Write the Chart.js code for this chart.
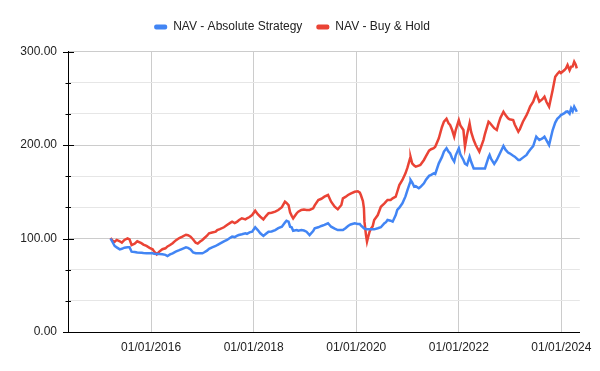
<!DOCTYPE html>
<html>
<head>
<meta charset="utf-8">
<script src="https://cdn.jsdelivr.net/npm/chart.js@4.4.1/dist/chart.umd.min.js"></script>
<style>
  html, body { margin: 0; padding: 0; background: #ffffff; }
  #wrap { width: 600px; height: 371px; }
</style>
</head>
<body>
<div id="wrap"><canvas id="c" width="600" height="371"></canvas></div>
<script>
// Dates as decimal years
const dates = [
  2015.21, 2015.25, 2015.29, 2015.33, 2015.39, 2015.43, 2015.48, 2015.54, 2015.58, 2015.62,
  2015.68, 2015.73, 2015.81, 2015.85, 2015.91, 2015.97, 2016.03, 2016.06, 2016.11, 2016.16,
  2016.22, 2016.28, 2016.32, 2016.37, 2016.42, 2016.48, 2016.55, 2016.61, 2016.68, 2016.72,
  2016.77, 2016.82, 2016.87, 2016.91, 2016.95, 2017.00, 2017.03, 2017.09, 2017.13, 2017.19,
  2017.26, 2017.29, 2017.34, 2017.42, 2017.48, 2017.55, 2017.58, 2017.63, 2017.68, 2017.71,
  2017.77, 2017.84, 2017.87, 2017.92, 2017.97, 2018.03, 2018.08, 2018.13, 2018.19, 2018.24,
  2018.29, 2018.35, 2018.42, 2018.48, 2018.55, 2018.61, 2018.64, 2018.68, 2018.71, 2018.74,
  2018.77, 2018.84, 2018.87, 2018.93, 2018.98, 2019.03, 2019.09, 2019.16, 2019.19, 2019.26,
  2019.32, 2019.38, 2019.45, 2019.51, 2019.58, 2019.64, 2019.71, 2019.74, 2019.79, 2019.84,
  2019.89, 2019.97, 2020.03, 2020.07, 2020.09, 2020.13, 2020.15, 2020.16, 2020.19, 2020.21,
  2020.23, 2020.26, 2020.29, 2020.32, 2020.35, 2020.42, 2020.48, 2020.55, 2020.58, 2020.61,
  2020.67, 2020.71, 2020.77, 2020.80, 2020.84, 2020.90, 2020.96, 2021.00, 2021.05, 2021.06,
  2021.09, 2021.13, 2021.16, 2021.22, 2021.25, 2021.32, 2021.36, 2021.42, 2021.46, 2021.51,
  2021.54, 2021.61, 2021.67, 2021.71, 2021.76, 2021.80, 2021.83, 2021.87, 2021.91, 2021.94,
  2022.00, 2022.03, 2022.09, 2022.12, 2022.16, 2022.21, 2022.24, 2022.29, 2022.33, 2022.40,
  2022.48, 2022.51, 2022.58, 2022.60, 2022.63, 2022.69, 2022.74, 2022.77, 2022.81, 2022.87,
  2022.91, 2022.96, 2022.99, 2023.06, 2023.09, 2023.16, 2023.19, 2023.25, 2023.32, 2023.35,
  2023.39, 2023.45, 2023.51, 2023.57, 2023.63, 2023.67, 2023.71, 2023.76, 2023.83, 2023.88,
  2023.92, 2023.96, 2023.99, 2024.06, 2024.09, 2024.12, 2024.16, 2024.19, 2024.22, 2024.25,
  2024.28, 2024.30
];

const absoluteStrategy = [
  100, 96, 92, 90.5, 88.4, 89, 90.2, 90.6, 90.6, 85.9,
  85.5, 85, 84.8, 84.5, 84.2, 84.2, 84.2, 83.8, 83.4, 83.3,
  83.1, 82.5, 81.3, 83, 84.2, 86, 87.5, 89, 90.5, 90,
  88.4, 85, 84.2, 84.2, 84.2, 84.2, 85, 87, 89, 90.5,
  92, 93, 94.5, 97, 98.4, 101, 102, 101.5, 103, 103.7,
  104.5, 105.6, 105, 106.5, 107.3, 112, 109, 105.6, 102.7, 105,
  107.3, 107.5, 109, 111, 112.6, 117, 119, 118, 112.6, 112,
  108.3, 109, 108.3, 109, 108.5, 107.3, 103.7, 108, 110.9, 112,
  113.4, 114.5, 116.3, 112.6, 110.5, 109, 109, 109, 111, 113.4,
  115, 116.3, 115.5, 115.5, 114, 112, 111, 110.5, 110.2, 110,
  110, 110, 110, 110, 109.8, 110.9, 112, 116.3, 117.5, 119.8,
  119, 118, 125, 130.5, 133, 137.6, 145, 151.9, 160, 162.6,
  160, 155.4, 156, 153.7, 155, 159, 163, 167, 168, 169.7,
  169, 180.4, 187, 193, 196.5, 192.8, 191.1, 185.8, 182.2, 189,
  196.5, 190, 184, 180, 178.6, 187.5, 182, 175, 175, 175,
  175, 175, 187, 189.3, 185, 179.7, 184, 187.5, 192, 198.9,
  195, 192, 191.1, 188.5, 187.5, 184, 184, 186.5, 189.3, 192,
  195, 198.9, 208.9, 205.3, 207, 208.9, 205, 200, 216, 224,
  228, 230, 232, 234, 235.6, 236, 233.5, 239.2, 236, 241,
  238, 235.6
];

const buyAndHold = [
  100.5, 97.5, 96.6, 98.5, 97, 95.5, 98.5, 100.2, 99, 93,
  94.5, 97, 95, 93.5, 92, 90, 88.5, 86, 83, 86,
  88.5, 89.5, 91.5, 93, 95, 98, 100.5, 102, 104, 103.5,
  102, 99, 95.5, 94.5, 96.5, 98.4, 100, 103, 105.6, 106.5,
  107.3, 109, 110, 112, 114.4, 117, 118, 116.5, 118, 119.5,
  121.6, 120.5, 121.6, 123, 125.1, 129.7, 126, 123.3, 120.5, 124,
  127, 127.5, 128.7, 130.5, 133.5, 139.4, 138, 135.8, 128, 124.5,
  121.6, 127, 128.7, 130.5, 131, 130.5, 130.5, 132.3, 135.5, 141.2,
  142.5, 144.7, 146.5, 139.4, 134, 131.2, 135.8, 143, 144.5, 146.5,
  148, 150, 150.5, 149, 146.5, 140, 132.3, 118, 103.7, 96.6,
  101, 107.3, 110.9, 113, 119.8, 125.1, 134, 137.5, 139.4, 141.2,
  141.2, 143, 144.7, 150, 157.2, 162.6, 169.7, 176, 185.8, 187,
  180.4, 178, 176.8, 178, 178.6, 184, 188, 194, 195.5, 196.5,
  198.2, 207.2, 219, 225, 228, 223.2, 221.4, 216, 208.9, 216,
  226.7, 221, 216, 198.2, 210.7, 223.2, 214, 205.3, 200, 192.8,
  205.3, 212, 224.9, 224, 222, 218, 216, 222, 229, 235.6,
  232, 228.6, 227.5, 226.7, 222, 214.2, 217, 224.9, 232, 235.6,
  241, 246.3, 255.3, 246.3, 249, 251.7, 246, 241, 258.8, 273,
  276, 278.4, 277, 280.2, 282, 285.6, 280, 283.8, 284, 289.1,
  286, 282
];

const xTickYears = [2016, 2018, 2020, 2022, 2024];
const yTickValues = [0, 100/3, 200/3, 100, 400/3, 500/3, 200, 700/3, 800/3, 300];
const seriesNames = ['NAV - Absolute Strategy', 'NAV - Buy & Hold'];
const seriesColors = ['#4285F4', '#EA4335'];

const isMajor = v => Math.abs(v - Math.round(v / 100) * 100) < 0.01;

Chart.defaults.font.family = "'Liberation Sans', Arial, sans-serif";
Chart.defaults.font.size = 12;
Chart.defaults.color = '#222222';

const legendSpacer = {
  id: 'legendSpacer',
  beforeLayout(chart) {
    const lg = chart.legend;
    if (lg && !lg._patched) {
      const fit = lg.fit;
      lg.fit = function () { fit.call(this); this.height += 8.5; };
      lg._patched = true;
    }
  }
};

const yAxisTicks = {
  id: 'yAxisTicks',
  afterDraw(chart) {
    const ys = chart.scales.y;
    const ctx = chart.ctx;
    const x0 = chart.chartArea.left;
    ctx.save();
    ctx.strokeStyle = '#000000';
    ctx.lineWidth = 1;
    ys.ticks.forEach(t => {
      const py = Math.round(ys.getPixelForValue(t.value)) + 0.5;
      const major = isMajor(t.value);
      ctx.beginPath();
      ctx.moveTo(x0 - (major ? 5 : 2.5), py);
      ctx.lineTo(x0 + (major ? 6 : 3), py);
      ctx.stroke();
    });
    ctx.restore();
  }
};

const toPoints = vals => dates.map((d, i) => ({ x: d, y: vals[i] }));

new Chart(document.getElementById('c'), {
  type: 'line',
  data: {
    datasets: [
      {
        label: seriesNames[0],
        data: toPoints(absoluteStrategy),
        borderColor: seriesColors[0],
        backgroundColor: seriesColors[0],
        borderWidth: 2.5,
        pointRadius: 0,
        tension: 0
      },
      {
        label: seriesNames[1],
        data: toPoints(buyAndHold),
        borderColor: seriesColors[1],
        backgroundColor: seriesColors[1],
        borderWidth: 2.5,
        pointRadius: 0,
        tension: 0
      }
    ]
  },
  options: {
    responsive: false,
    animation: false,
    layout: { padding: { top: 7, left: 0, right: 16, bottom: 0 } },
    plugins: {
      legend: {
        display: true,
        position: 'top',
        labels: {
          boxWidth: 13,
          boxHeight: 5,
          padding: 14,
          color: '#222222',
          font: { size: 12 },
          useBorderRadius: true,
          borderRadius: 2,
          generateLabels: chart =>
            Chart.defaults.plugins.legend.labels.generateLabels(chart).map(l => ({ ...l, lineWidth: 0 }))
        }
      },
      tooltip: { enabled: false }
    },
    scales: {
      x: {
        type: 'linear',
        min: 2014.38,
        max: 2024.36,
        afterBuildTicks: s => { s.ticks = xTickYears.map(v => ({ value: v })); },
        afterFit: s => { s.height = 39; },
        ticks: {
          autoSkip: false,
          maxRotation: 0,
          padding: 8,
          color: '#222222',
          callback: v => '01/01/' + v
        },
        grid: { color: '#cccccc', drawTicks: false },
        border: { color: '#000000', width: 1 }
      },
      y: {
        min: 0,
        max: 300,
        afterBuildTicks: s => { s.ticks = yTickValues.map(v => ({ value: v })); },
        afterFit: s => { s.width = 68; },
        ticks: {
          autoSkip: false,
          padding: 11,
          color: '#222222',
          callback: v => isMajor(v) ? v.toFixed(2) : ''
        },
        grid: {
          drawTicks: false,
          color: c => (c.tick && isMajor(c.tick.value)) ? '#cccccc' : '#e6e6e6'
        },
        border: { color: '#000000', width: 1 }
      }
    }
  },
  plugins: [legendSpacer, yAxisTicks]
});
</script>
</body>
</html>
